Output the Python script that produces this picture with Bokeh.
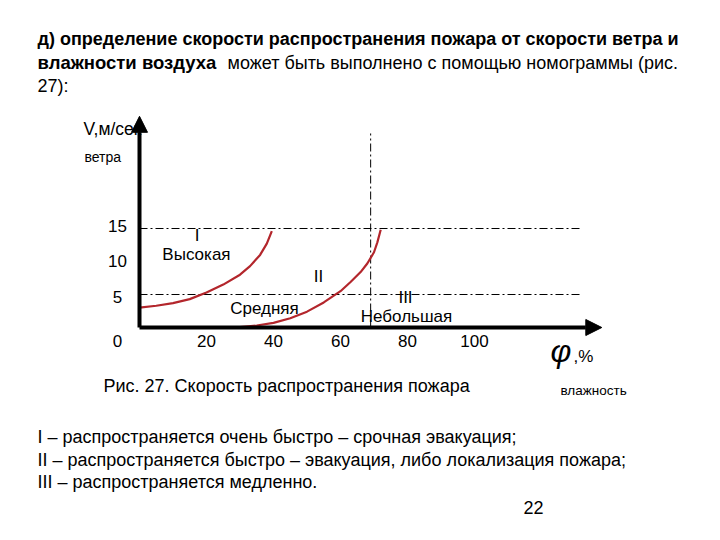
from bokeh.plotting import figure
from bokeh.models import Range1d, Label, Arrow, NormalHead
from bokeh.embed import file_html
from bokeh.resources import INLINE
from bokeh.core.properties import value

# ---- data ----
curve1_phi = [0, 5, 10, 15, 20, 25, 30, 33, 36, 38, 39.5]
curve1_v = [3.0, 3.3, 3.7, 4.3, 5.3, 6.5, 8.0, 9.3, 11.0, 12.7, 14.6]
curve2_phi = [27, 30, 35, 40, 45, 50, 55, 60, 63, 66, 68, 70, 71, 72]
curve2_v = [0, 0.05, 0.3, 0.7, 1.4, 2.4, 3.8, 5.5, 6.9, 8.4, 9.7, 11.4, 12.9, 14.8]
x_ticks = [20, 40, 60, 80, 100]
y_ticks = [15, 10, 5]
h_levels = [15, 5]
v_level = 69
zone_labels = ["I", "Высокая", "II", "Средняя", "III", "Небольшая"]
zone_phi = [17.2, 17.0, 53.4, 37.3, 79.4, 79.7]
zone_v = [13.9, 11.0, 7.7, 2.9, 4.5, 1.7]

W, H = 712, 532
# page pixel mapping: phi=0 at x=139, 3.35 px/unit; V=0 at y=327, 6.6 px/unit
p = figure(width=W, height=H, output_backend="svg", toolbar_location=None,
           x_range=Range1d(-139 / 3.35, (W - 139) / 3.35),
           y_range=Range1d((327 - H) / 6.6, 327 / 6.6),
           min_border=0, outline_line_color=None)
p.axis.visible = False
p.grid.visible = False
FONT = "Liberation Sans"

# dash-dot reference lines
for lv in h_levels:
    p.line([0, 132], [lv, lv], line_color="black", line_width=1, line_dash="8 3 2 3")
p.line([v_level, v_level], [0, 29.4], line_color="black", line_width=1, line_dash="8 3 2 3")

# curves
p.line(curve1_phi, curve1_v, line_color="#b3262c", line_width=2.2, line_join="round")
p.line(curve2_phi, curve2_v, line_color="#b3262c", line_width=2.2, line_join="round")

# axes arrows
p.add_layout(Arrow(x_start=0, y_start=0, x_end=138, y_end=0, line_width=4,
                   end=NormalHead(size=16, fill_color="black", line_color="black")))
p.add_layout(Arrow(x_start=0, y_start=0, x_end=0, y_end=32, line_width=4,
                   end=NormalHead(size=16, fill_color="black", line_color="black")))

# tick labels
p.text(x=x_ticks, y=[-2.1] * len(x_ticks), text=[str(t) for t in x_ticks],
       text_align="center", text_baseline="middle", text_font=value(FONT),
       text_font_size="17px", text_color="black")
p.text(x=[-6.6] * len(y_ticks), y=[15.4, 10.1, 4.6], text=[str(t) for t in y_ticks],
       text_align="center", text_baseline="middle", text_font=value(FONT),
       text_font_size="17px", text_color="black")
p.text(x=[-6.6], y=[-2.1], text=["0"], text_align="center", text_baseline="middle",
       text_font=value(FONT), text_font_size="17px", text_color="black")

# zone labels
p.text(x=zone_phi, y=zone_v, text=zone_labels, text_align="center", text_baseline="middle",
       text_font=value(FONT), text_font_size="17px", text_color="black")

def lab(txt, px, py, size="18px", style="normal", align="left", color="black"):
    p.add_layout(Label(x=px, y=H - py, x_units="screen", y_units="screen",
                       text=txt, text_font=FONT, text_font_size=size,
                       text_font_style=style, text_align=align,
                       text_baseline="middle", text_color=color))

# header paragraph
lab("д) определение скорости распространения пожара от скорости ветра и", 37, 38, "18px", "bold")
lab("влажности воздуха", 37, 62, "18.5px", "bold")
lab("может быть выполнено с помощью номограммы (рис.", 227, 62, "18px")
lab("27):", 37, 85, "18px")

# axis titles
lab("V,м/сек", 83, 128, "17.5px")
lab("ветра", 84, 156, "14px")
lab("φ", 550, 350, "32px", "italic")
lab(",%", 573, 356, "17px")
lab("влажность", 560, 390, "13.5px")

# caption and legend
lab("Рис. 27. Скорость распространения пожара", 103, 385, "18px")
lab("I – распространяется очень быстро – срочная эвакуация;", 37, 436, "18px")
lab("II – распространяется быстро – эвакуация, либо локализация пожара;", 37, 459, "18px")
lab("III – распространяется медленно.", 37, 481, "18px")
lab("22", 533, 507, "18px", align="center")

open("out.html", "w").write(file_html(p, INLINE))
